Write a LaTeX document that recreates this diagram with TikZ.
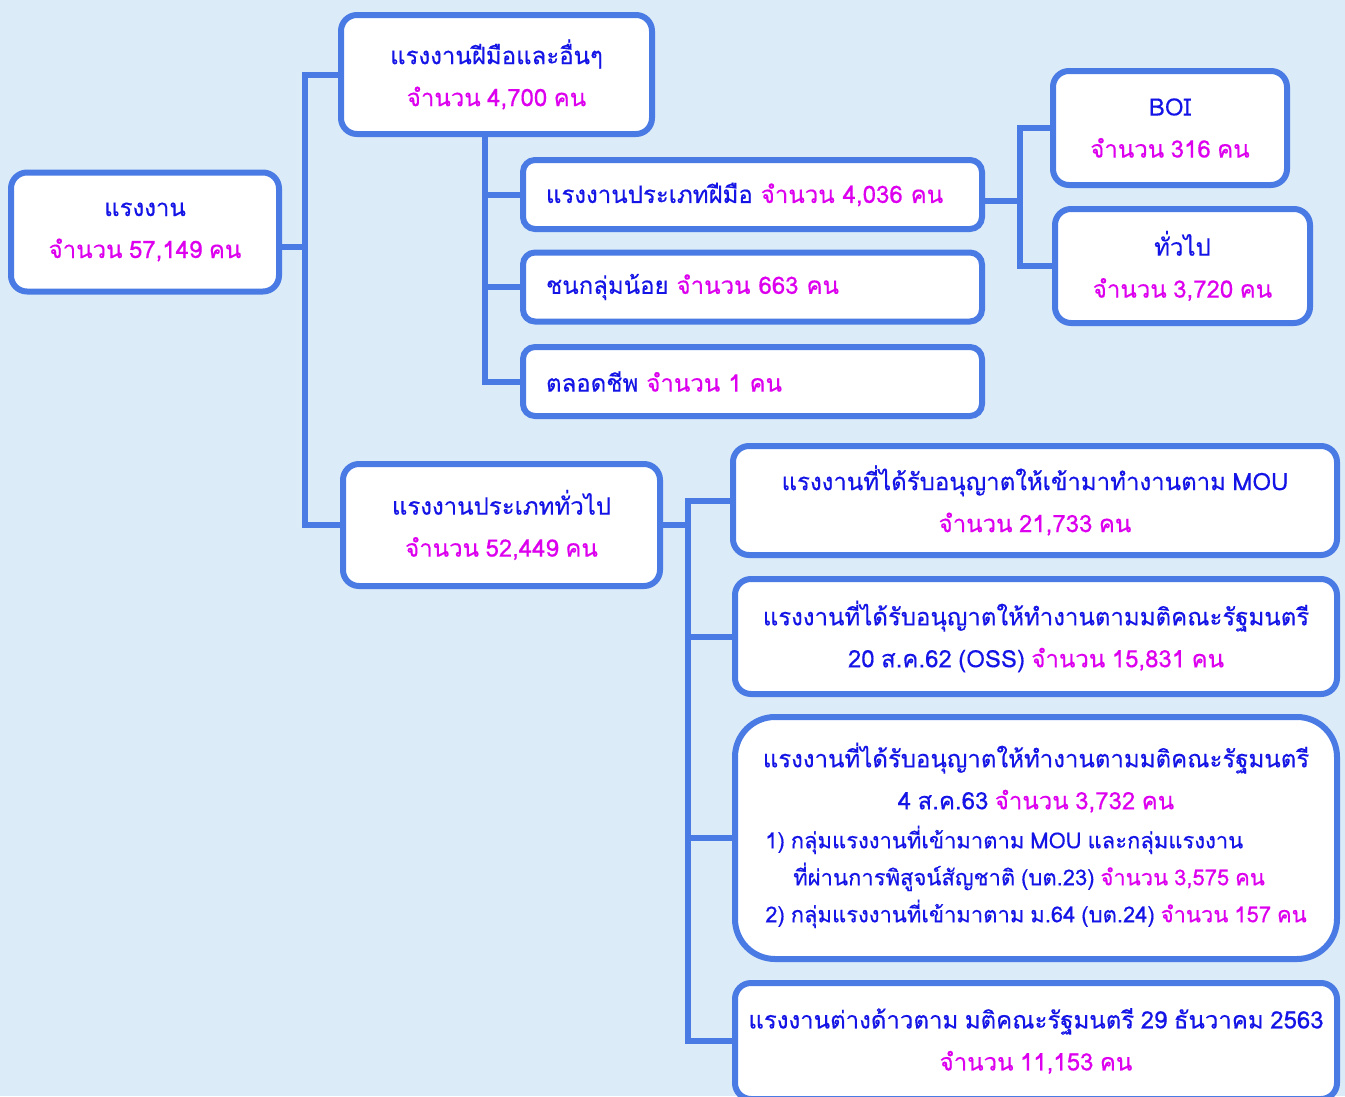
\documentclass[tikz,border=0pt]{standalone}
\usepackage{fontspec}
\setmainfont[Script=Thai,WordSpace=0.8,FakeBold=0.4]{Loma}
\usetikzlibrary{positioning}
\definecolor{bgsky}{HTML}{DCEBF8}
\definecolor{edge}{HTML}{4A7BE5}
\definecolor{ink}{HTML}{1414E6}
\definecolor{mag}{HTML}{DD00EE}
\newcommand{\num}[1]{\textcolor{mag}{#1}}
\tikzset{
  box/.style={draw=edge,fill=white,line width=6pt,rounded corners=16pt,align=center,text=ink,font=\fontsize{24}{42}\selectfont},
  bar/.style={box,rounded corners=12pt,align=left,text width=413pt,inner xsep=23pt,minimum height=69pt},
  link/.style={draw=edge,line width=6pt},
}
\begin{document}
\begin{tikzpicture}[x=1pt,y=-1pt]
\useasboundingbox (0,0) rectangle (1345,1096);
\fill[bgsky] (0,0) rectangle (1345,1096);
\clip (0,0) rectangle (1345,1096);
\node[box,minimum width=268pt,minimum height=119pt] (root) at (145,232) {แรงงาน\\\num{จำนวน 57,149 คน}};
\node[box,minimum width=311pt,minimum height=119pt] (skill) at (496.5,74.5) {แรงงานฝีมือและอื่นๆ\\\num{จำนวน 4,700 คน}};
\node[bar] (skilltype) at (752.5,194.5) {แรงงานประเภทฝีมือ \num{จำนวน 4,036 คน}};
\node[bar] (minority) at (752.5,287) {ชนกลุ่มน้อย \num{จำนวน 663 คน}};
\node[bar] (lifelong) at (752.5,381.5) {ตลอดชีพ \num{จำนวน 1 คน}};
\node[box,minimum width=234pt,minimum height=114pt] (boi) at (1170,128) {BOI\\\num{จำนวน 316 คน}};
\node[box,minimum width=255pt,minimum height=114pt] (general) at (1182.5,266) {ทั่วไป\\\num{จำนวน 3,720 คน}};
\node[box,minimum width=317pt,minimum height=122pt] (gen) at (501.5,525) {แรงงานประเภททั่วไป\\\num{จำนวน 52,449 คน}};
\node[box,minimum width=604pt,minimum height=109pt] (mou) at (1035,500.5) {แรงงานที่ได้รับอนุญาตให้เข้ามาทำงานตาม MOU\\\num{จำนวน 21,733 คน}};
\node[box,minimum width=602pt,minimum height=115pt] (oss) at (1036,636.5) {แรงงานที่ได้รับอนุญาตให้ทำงานตามมติคณะรัฐมนตรี\\20 ส.ค.62 (OSS) \num{จำนวน 15,831 คน}};
\node[box,rounded corners=40pt,minimum width=602pt,minimum height=242pt] (cab63) at (1036,838) {แรงงานที่ได้รับอนุญาตให้ทำงานตามมติคณะรัฐมนตรี\\4 ส.ค.63 \num{จำนวน 3,732 คน}\\[-3pt]
{\fontsize{22}{37}\selectfont\begin{tabular}[t]{@{}l@{}}1) กลุ่มแรงงานที่เข้ามาตาม MOU และกลุ่มแรงงาน\\\hspace{28pt}ที่ผ่านการพิสูจน์สัญชาติ (บต.23) \num{จำนวน 3,575 คน}\\2) กลุ่มแรงงานที่เข้ามาตาม ม.64 (บต.24) \num{จำนวน 157 คน}\end{tabular}}};
\node[box,minimum width=602pt,minimum height=116pt] (dec63) at (1036,1041) {แรงงานต่างด้าวตาม มติคณะรัฐมนตรี 29 ธันวาคม 2563\\\num{จำนวน 11,153 คน}};
\coordinate (trunk) at (305,0);
\coordinate (stem) at (485,0);
\coordinate (fork) at (1020,0);
\coordinate (spine) at (688,0);
\draw[link] ([yshift=-15pt]root.east) -- ([yshift=-15pt]root.east -| trunk);
\draw[link] (skill.west) -- (skill.west -| trunk) -- (gen.west -| trunk) -- (gen.west);
\draw[link] (skill.south -| stem) -- (lifelong.west -| stem) -- (lifelong.west);
\draw[link] (skilltype.west -| stem) -- (skilltype.west);
\draw[link] (minority.west -| stem) -- (minority.west);
\draw[link] ([yshift=-6pt]skilltype.east) -- ([yshift=-6pt]skilltype.east -| fork);
\draw[link] (boi.west) -- (boi.west -| fork) -- (general.west -| fork) -- (general.west);
\draw[link] (gen.east) -- (gen.east -| spine);
\draw[link] (mou.west) -- (mou.west -| spine) -- (dec63.west -| spine) -- (dec63.west);
\draw[link] (oss.west -| spine) -- (oss.west);
\draw[link] (cab63.west -| spine) -- (cab63.west);
\end{tikzpicture}
\end{document}
